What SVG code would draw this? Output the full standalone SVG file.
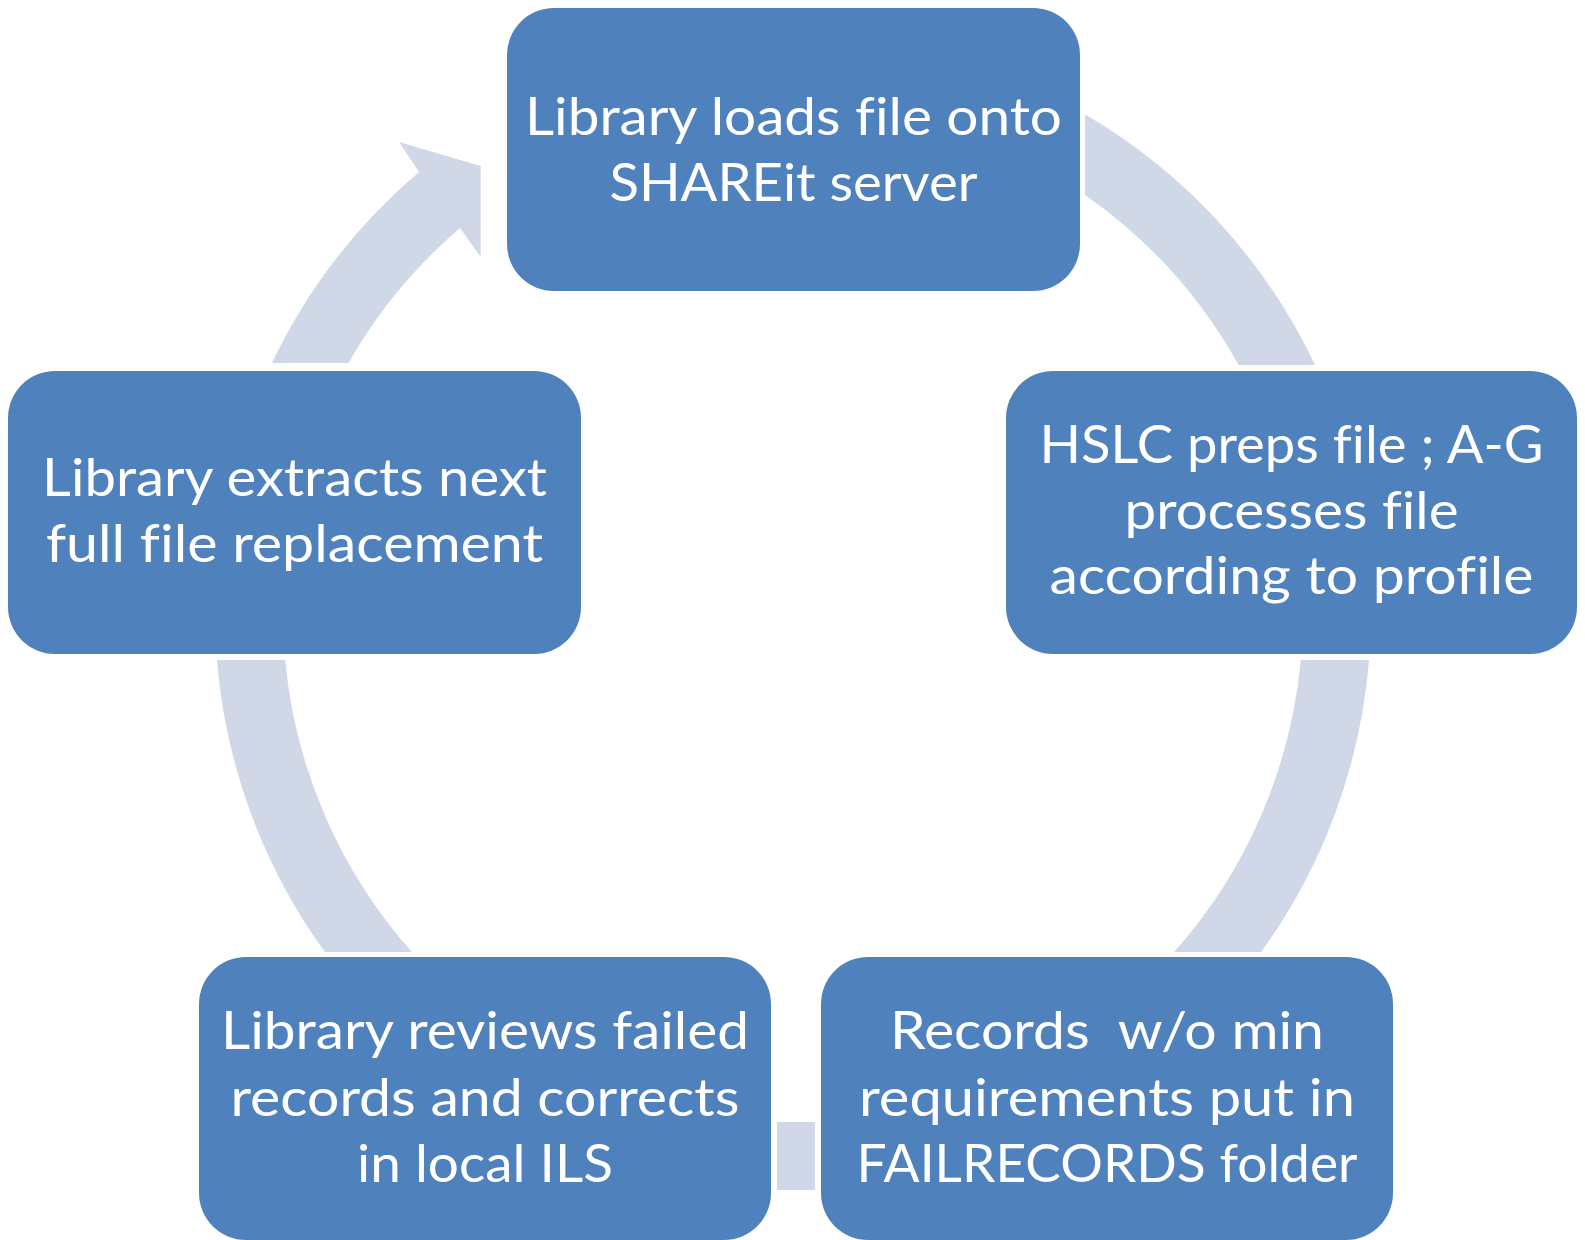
<svg xmlns="http://www.w3.org/2000/svg" width="1585" height="1240" viewBox="0 0 1585 1240">
<style>
.node{fill:#4F81BD;}
.arrow{fill:#D0D8E8;}
.lbl{font-family:Lato,"Open Sans","Liberation Sans",sans-serif;font-size:53px;fill:#FFFFFF;text-anchor:middle;font-variant-ligatures:none;font-feature-settings:"liga" 0;}
</style>
<rect width="1585" height="1240" fill="#FFFFFF"/>
<g id="connectors">
<path class="arrow" d="M1085,114.2 A578,578 0 0 1 1315.1,365 L1238.6,365 A510,510 0 0 0 1085,194.9 Z"/>
<path class="arrow" d="M1369.1,660 A578,578 0 0 1 1261.1,952 L1174,952 A510,510 0 0 0 1300.8,660 Z"/>
<rect class="arrow" x="777" y="1122" width="38" height="68"/>
<path class="arrow" d="M324.9,952 A578,578 0 0 1 216.9,660 L285.2,660 A510,510 0 0 0 412,952 Z"/>
<path class="arrow" d="M271.9,363 A578,578 0 0 1 419,172 L399,142 L480.7,166 L480.7,257 L460,228 A510,510 0 0 0 348.5,363 Z"/>
</g>
<g id="node1">
<rect class="node" x="507" y="8" width="573" height="283" rx="47"/>
<text class="lbl" x="793.5" y="134.5" textLength="537" lengthAdjust="spacingAndGlyphs">Library loads file onto</text>
<text class="lbl" x="793.5" y="201" textLength="368" lengthAdjust="spacingAndGlyphs">SHAREit server</text>
</g>
<g id="node2">
<rect class="node" x="1006" y="371" width="571" height="283" rx="47"/>
<text class="lbl" x="1291.5" y="462.7" textLength="504" lengthAdjust="spacingAndGlyphs">HSLC preps file ; A-G</text>
<text class="lbl" x="1291.5" y="528.5" textLength="334" lengthAdjust="spacingAndGlyphs">processes file</text>
<text class="lbl" x="1291.5" y="594" textLength="484" lengthAdjust="spacingAndGlyphs">according to profile</text>
</g>
<g id="node3">
<rect class="node" x="821" y="957" width="572" height="283" rx="47"/>
<text class="lbl" x="1107" y="1049" textLength="434" lengthAdjust="spacingAndGlyphs" xml:space="preserve">Records  w/o min</text>
<text class="lbl" x="1107" y="1115.5" textLength="496" lengthAdjust="spacingAndGlyphs">requirements put in</text>
<text class="lbl" x="1107" y="1182" textLength="501" lengthAdjust="spacingAndGlyphs">FAILRECORDS folder</text>
</g>
<g id="node4">
<rect class="node" x="199" y="957" width="572" height="283" rx="47"/>
<text class="lbl" x="485" y="1049" textLength="528" lengthAdjust="spacingAndGlyphs">Library reviews failed</text>
<text class="lbl" x="485" y="1115.5" textLength="509" lengthAdjust="spacingAndGlyphs">records and corrects</text>
<text class="lbl" x="485" y="1182" textLength="256" lengthAdjust="spacingAndGlyphs">in local ILS</text>
</g>
<g id="node5">
<rect class="node" x="8" y="371" width="573" height="283" rx="47"/>
<text class="lbl" x="294.5" y="496" textLength="505" lengthAdjust="spacingAndGlyphs">Library extracts next</text>
<text class="lbl" x="294.5" y="562" textLength="497" lengthAdjust="spacingAndGlyphs">full file replacement</text>
</g>
</svg>
